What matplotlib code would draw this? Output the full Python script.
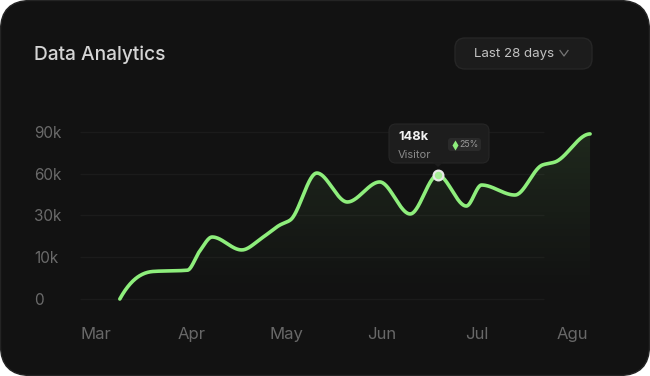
import numpy as np
import matplotlib
matplotlib.use('Agg')
import matplotlib.pyplot as plt
from matplotlib.patches import FancyBboxPatch, Polygon, PathPatch
from matplotlib.path import Path

plt.rcParams['font.family'] = ['Inter', 'DejaVu Sans']

# chart data (x in months from Mar, values in thousands)
months = ['Mar', 'Apr', 'May', 'Jun', 'Jul', 'Agu']
y_ticks = [0, 10, 30, 60, 90]
y_labels = ['0', '10k', '30k', '60k', '90k']
visit_x = [0.25, 0.60, 0.96, 1.09, 1.22, 1.53, 1.75, 1.93, 2.04, 2.32,
           2.64, 2.98, 3.30, 3.59, 3.89, 4.05, 4.40, 4.69, 4.82, 5.19]
visit_k = [0, 6.6, 6.9, 13.0, 19.7, 13.5, 19.5, 25.4, 27.8, 60.5,
           39.7, 54.1, 31.1, 59.1, 36.8, 51.9, 44.7, 66.3, 68.4, 88.6]
hl_x, hl_k = 3.59, 59.1
tip_value = '148k'
tip_label = 'Visitor'
tip_change = '25%'

GREEN = '#8eee7c'

# the y axis is evenly spaced between uneven ticks
scale_v = [-100, 0, 10, 30, 60, 90, 390]
scale_p = [-10, 0, 1, 2, 3, 4, 14]
fwd = lambda v: np.interp(v, scale_v, scale_p)
inv = lambda p: np.interp(p, scale_p, scale_v)


def monotone(x, y, xs):
    x = np.asarray(x, float); y = np.asarray(y, float)
    h = np.diff(x); d = np.diff(y) / h
    m = np.zeros_like(y)
    for k in range(1, len(y) - 1):
        if d[k - 1] * d[k] > 0:
            w1 = 2 * h[k] + h[k - 1]; w2 = h[k] + 2 * h[k - 1]
            m[k] = (w1 + w2) / (w1 / d[k - 1] + w2 / d[k])
    m[0] = d[0] * 2.2
    m[-1] = 0
    i = np.clip(np.searchsorted(x, xs) - 1, 0, len(x) - 2)
    t = (xs - x[i]) / h[i]
    h00 = 2*t**3 - 3*t**2 + 1; h10 = t**3 - 2*t**2 + t
    h01 = -2*t**3 + 3*t**2; h11 = t**3 - t**2
    return h00*y[i] + h10*h[i]*m[i] + h01*y[i+1] + h11*h[i]*m[i+1]


fig = plt.figure(figsize=(6.5, 3.76), dpi=100)
fig.patch.set_facecolor('white')

bg = fig.add_axes([0, 0, 1, 1], zorder=0)
bg.set_xlim(0, 650); bg.set_ylim(376, 0); bg.axis('off')
bg.add_patch(FancyBboxPatch((0.5, 0.5), 649, 375, boxstyle='round,pad=0,rounding_size=30',
                            fc='#121212', ec='#242424', lw=1))
bg.text(34, 55, 'Data Analytics', color='#d4d4d4', fontsize=13.8, fontweight='medium', va='center')
bg.add_patch(FancyBboxPatch((455, 38), 137, 31, boxstyle='round,pad=0,rounding_size=10',
                            fc='#1c1c1c', ec='#262626', lw=1))
bg.text(474, 54, 'Last 28 days', color='#c2c2c2', fontsize=9.6, va='center')
bg.plot([560, 564, 568], [50.5, 56, 50.5], color='#777777', lw=0.9)

# plot area: px 80..600 horizontally, 120..312 vertically
ax = fig.add_axes([80/650, (376-312)/376, 520/650, 192/376], zorder=1)
ax.set_facecolor('none')
ax.set_yscale('function', functions=(fwd, inv))
x0, x1 = (80-96)/95.2, (600-96)/95.2
ax.set_xlim(x0, x1)
ax.set_ylim(inv(-0.311), inv(4.287))
for s in ax.spines.values():
    s.set_visible(False)

ax.hlines(y_ticks, x0, (544-96)/95.2, color='#1b1b1b', lw=1, zorder=1)

xs = np.linspace(visit_x[0], visit_x[-1], 900)
ys = inv(monotone(visit_x, fwd(np.array(visit_k)), xs))

# gradient fill under the line
ybot = inv(-0.311)
verts = np.vstack([np.column_stack([xs, ys]), [[xs[-1], ybot], [xs[0], ybot]]])
clip = PathPatch(Path(verts, closed=True), transform=ax.transData, fc='none', ec='none')
ax.add_patch(clip)
grad = np.zeros((256, 1, 4))
grad[..., 0:3] = matplotlib.colors.to_rgb(GREEN)
grad[:, 0, 3] = np.linspace(0.17, 0.0, 256) ** 1.2
im = ax.imshow(grad, extent=[0, 1, 0.05, 1], transform=ax.transAxes, aspect='auto', zorder=2)
im.set_clip_path(clip)

ax.plot(xs, ys, color=GREEN, lw=2.6, solid_capstyle='round', zorder=3)
ax.plot(hl_x, hl_k, 'o', ms=7, mfc='#a6ec96', mec='#e8e8e8', mew=1.6, zorder=4)

ax.set_xticks(range(len(months)), months)
ax.set_yticks(y_ticks, y_labels)
ax.minorticks_off()
ax.tick_params(axis='x', length=0, pad=11, labelsize=12, labelcolor='#686868')
ax.tick_params(axis='y', length=0, pad=33, labelsize=11, labelcolor='#6a6a6a')
for lab in ax.get_yticklabels():
    lab.set_horizontalalignment('left')

# tooltip
top = fig.add_axes([0, 0, 1, 1], zorder=3)
top.set_xlim(0, 650); top.set_ylim(376, 0); top.axis('off')
top.add_patch(FancyBboxPatch((389, 124), 100, 39, boxstyle='round,pad=0,rounding_size=7',
                             fc='#1d1d1d', ec='#262626', lw=0.8))
top.add_patch(Polygon([(433, 162.5), (443, 162.5), (438, 167)], closed=True, fc='#1d1d1d', ec='none'))
top.text(398, 137.5, tip_value, color='#f2f2f2', fontsize=9.3, fontweight='bold', va='center')
top.text(398, 155, tip_label, color='#8a8a8a', fontsize=8, va='center')
top.add_patch(FancyBboxPatch((448, 138), 33, 13, boxstyle='round,pad=0,rounding_size=3',
                             fc='#2a2a2a', ec='none'))
top.plot(454.5, 144.5, marker='d', ms=5, color=GREEN, mec='none')
top.text(459, 144.8, tip_change, color='#9a9a9a', fontsize=6.3, va='center')

fig.savefig('out.png', dpi=100, facecolor='white')
